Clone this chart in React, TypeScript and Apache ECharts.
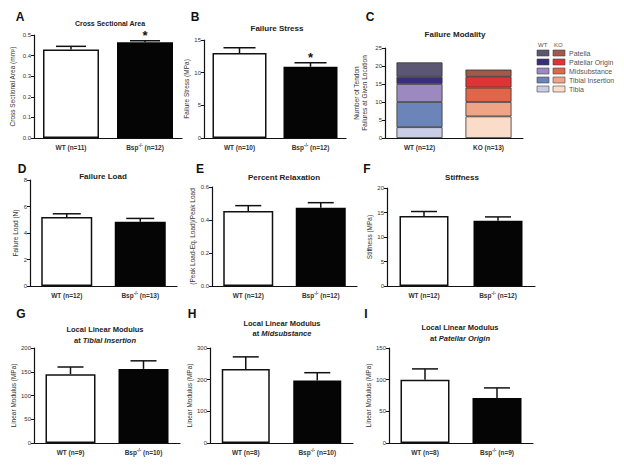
import React, { useEffect, useRef } from "react";
import * as echarts from "echarts";

// ---------- DATA ----------
const csaCats = ["WT (n=11)", "Bsp-/- (n=12)"];
const csaMean = [0.43, 0.465];
const csaUpper = [0.445, 0.472];
const csaSig = ["", "*"];

const stressCats = ["WT (n=10)", "Bsp-/- (n=12)"];
const stressMean = [13.0, 10.9];
const stressUpper = [13.8, 11.5];
const stressSig = ["", "*"];

const modalityCats = ["WT (n=12)", "KO (n=13)"];
const locations = ["Patella", "Patellar Origin", "Midsubstance", "Tibial Insertion", "Tibia"];
const wtCounts = [4, 2, 5, 7, 3];
const koCounts = [2, 3, 4, 4, 6];
const wtColors = ["#5b5672", "#3b2d7e", "#9c89bf", "#6b85bb", "#c9cde6"];
const koColors = ["#a2584a", "#de3434", "#df6649", "#f0a486", "#fbdcc8"];

const loadCats = ["WT (n=12)", "Bsp-/- (n=13)"];
const loadMean = [5.2, 4.85];
const loadUpper = [5.45, 5.1];

const relaxCats = ["WT (n=12)", "Bsp-/- (n=12)"];
const relaxMean = [0.455, 0.475];
const relaxUpper = [0.487, 0.505];

const stiffCats = ["WT (n=12)", "Bsp-/- (n=12)"];
const stiffMean = [14.3, 13.3];
const stiffUpper = [15.2, 14.1];

const tibCats = ["WT (n=9)", "Bsp-/- (n=10)"];
const tibMean = [145, 156];
const tibUpper = [160, 173];

const midCats = ["WT (n=8)", "Bsp-/- (n=10)"];
const midMean = [234, 197];
const midUpper = [272, 222];

const patCats = ["WT (n=8)", "Bsp-/- (n=9)"];
const patMean = [100, 71];
const patUpper = [117, 87];

// ---------- LAYOUT ----------
const FONT = "Liberation Sans, Arial, sans-serif";
const grids = [
  { left: 34, top: 35, width: 148, height: 103 },
  { left: 204, top: 40, width: 142, height: 98 },
  { left: 385, top: 48, width: 138, height: 90 },
  { left: 30, top: 180, width: 147, height: 106 },
  { left: 212, top: 187, width: 145, height: 99 },
  { left: 387, top: 188, width: 148, height: 98 },
  { left: 34, top: 348, width: 146, height: 95 },
  { left: 210, top: 348, width: 143, height: 95 },
  { left: 389, top: 348, width: 144, height: 95 },
];

function catFormatter(v: string) {
  if (v.startsWith("Bsp-/-")) {
    return "{b|Bsp}{s|-/-}{b|" + v.slice(6) + "}";
  }
  return "{b|" + v + "}";
}

function makeX(idx: number, cats: string[]) {
  return {
    type: "category",
    gridIndex: idx,
    data: cats,
    axisLine: { lineStyle: { color: "#111", width: 1.2 } },
    axisTick: { alignWithLabel: true, length: 3, interval: 0, lineStyle: { color: "#111" } },
    axisLabel: {
      margin: 5,
      interval: 0,
      hideOverlap: false,
      formatter: catFormatter,
      rich: {
        b: { fontSize: 6.5, fontWeight: "bold", color: "#333", fontFamily: FONT, lineHeight: 9 },
        s: { fontSize: 4.5, fontWeight: "bold", color: "#333", fontFamily: FONT, verticalAlign: "top", lineHeight: 9 },
      },
    },
  };
}

function makeY(idx: number, max: number, interval: number, name: string, gap: number, dec: number) {
  return {
    type: "value",
    gridIndex: idx,
    min: 0,
    max,
    interval,
    name,
    nameLocation: "middle",
    nameGap: gap,
    nameTextStyle: { fontSize: 6.5, color: "#333", fontFamily: FONT, lineHeight: 8 },
    splitLine: { show: false },
    axisLine: { show: true, lineStyle: { color: "#111", width: 1.2 } },
    axisTick: { show: true, length: 3, lineStyle: { color: "#111" } },
    axisLabel: {
      fontSize: 6,
      color: "#333",
      fontFamily: FONT,
      margin: 3,
      formatter: (v: number) => v.toFixed(dec),
    },
  };
}

function barSeries(idx: number, means: number[], bw: number) {
  return {
    type: "bar",
    xAxisIndex: idx,
    yAxisIndex: idx,
    barWidth: bw,
    z: 2,
    data: means.map((m, i) => ({
      value: m,
      itemStyle:
        i === 0
          ? { color: "#ffffff", borderColor: "#111", borderWidth: 1.5 }
          : { color: "#050505", borderColor: "#050505", borderWidth: 1.5 },
    })),
  };
}

function errSeries(idx: number, means: number[], uppers: number[], cap: number, sig?: string[]) {
  return {
    type: "custom",
    xAxisIndex: idx,
    yAxisIndex: idx,
    z: 5,
    data: means.map((m, i) => [i, m, uppers[i]]),
    renderItem: (params: any, api: any) => {
      const i = api.value(0);
      const top = api.coord([i, api.value(1)]);
      const up = api.coord([i, api.value(2)]);
      const children: any[] = [
        { type: "line", shape: { x1: top[0], y1: top[1], x2: up[0], y2: up[1] }, style: { stroke: "#111", lineWidth: 1.5 } },
        { type: "line", shape: { x1: up[0] - cap, y1: up[1], x2: up[0] + cap, y2: up[1] }, style: { stroke: "#111", lineWidth: 1.5 } },
      ];
      if (sig && sig[params.dataIndex]) {
        children.push({
          type: "text",
          style: {
            text: sig[params.dataIndex],
            x: up[0],
            y: up[1] - 5,
            textAlign: "center",
            textVerticalAlign: "middle",
            fontSize: 13,
            fontWeight: "bold",
            fontFamily: FONT,
            fill: "#111",
          },
        });
      }
      return { type: "group", children };
    },
  };
}

function label(text: string, x: number, y: number) {
  return {
    type: "text",
    style: { text, x, y, textAlign: "center", textVerticalAlign: "middle", fontSize: 12, fontWeight: "bold", fontFamily: FONT, fill: "#111" },
  };
}

function title(text: string, x: number, y: number, size = 7.5) {
  return {
    type: "text",
    style: { text, x, y, textAlign: "center", textVerticalAlign: "middle", fontSize: size, fontWeight: "bold", fontFamily: FONT, fill: "#222" },
  };
}

function subtitle(italicPart: string, x: number, y: number) {
  return {
    type: "text",
    style: {
      text: "{n|at }{i|" + italicPart + "}",
      x,
      y,
      textAlign: "center",
      textVerticalAlign: "middle",
      rich: {
        n: { fontSize: 7.5, fontWeight: "bold", fontFamily: FONT, fill: "#222" },
        i: { fontSize: 7.5, fontWeight: "bold", fontStyle: "italic", fontFamily: FONT, fill: "#222" },
      },
    },
  };
}

export default function App() {
  const ref = useRef<HTMLDivElement>(null);
  useEffect(() => {
    if (!ref.current) return;
    const chart = echarts.init(ref.current, undefined, { renderer: "svg" });

    const xAxis = [
      makeX(0, csaCats),
      makeX(1, stressCats),
      makeX(2, modalityCats),
      makeX(3, loadCats),
      makeX(4, relaxCats),
      makeX(5, stiffCats),
      makeX(6, tibCats),
      makeX(7, midCats),
      makeX(8, patCats),
    ];
    const yAxis = [
      makeY(0, 0.5, 0.1, "Cross Sectional Area (mm²)", 18, 1),
      makeY(1, 15, 5, "Failure Stress (MPa)", 13, 0),
      makeY(2, 25, 5, "Number of Tendon\nFailures at Given Location", 17, 0),
      makeY(3, 8, 2, "Failure Load (N)", 11, 0),
      makeY(4, 0.6, 0.2, "(Peak Load-Eq. Load)/Peak Load", 15, 1),
      makeY(5, 20, 5, "Stiffness (MPa)", 12, 0),
      makeY(6, 200, 50, "Linear Modulus (MPa)", 17, 0),
      makeY(7, 300, 100, "Linear Modulus (MPa)", 17, 0),
      makeY(8, 150, 50, "Linear Modulus (MPa)", 16, 0),
    ];

    const stackSeries = locations
      .map((loc, k) => ({
        type: "bar",
        name: loc,
        stack: "modality",
        xAxisIndex: 2,
        yAxisIndex: 2,
        barWidth: 46,
        data: [
          { value: wtCounts[k], itemStyle: { color: wtColors[k], borderColor: "#333", borderWidth: 0.8 } },
          { value: koCounts[k], itemStyle: { color: koColors[k], borderColor: "#333", borderWidth: 0.8 } },
        ],
      }))
      .reverse();

    const series: any[] = [
      barSeries(0, csaMean, 56),
      errSeries(0, csaMean, csaUpper, 15, csaSig),
      barSeries(1, stressMean, 54),
      errSeries(1, stressMean, stressUpper, 16, stressSig),
      ...stackSeries,
      barSeries(3, loadMean, 51),
      errSeries(3, loadMean, loadUpper, 14),
      barSeries(4, relaxMean, 50),
      errSeries(4, relaxMean, relaxUpper, 13),
      barSeries(5, stiffMean, 49),
      errSeries(5, stiffMean, stiffUpper, 13),
      barSeries(6, tibMean, 50),
      errSeries(6, tibMean, tibUpper, 13),
      barSeries(7, midMean, 48),
      errSeries(7, midMean, midUpper, 13),
      barSeries(8, patMean, 49),
      errSeries(8, patMean, patUpper, 13),
    ];

    const legendEls: any[] = [
      { type: "text", style: { text: "WT", x: 538, y: 45, fontSize: 6, fontFamily: FONT, fill: "#555", textVerticalAlign: "middle" } },
      { type: "text", style: { text: "KO", x: 554, y: 45, fontSize: 6, fontFamily: FONT, fill: "#555", textVerticalAlign: "middle" } },
    ];
    locations.forEach((loc, k) => {
      const y = 53 + k * 9;
      legendEls.push(
        { type: "rect", shape: { x: 537, y: y - 3, width: 12, height: 6 }, style: { fill: wtColors[k], stroke: "#444", lineWidth: 0.6 } },
        { type: "rect", shape: { x: 553, y: y - 3, width: 12, height: 6 }, style: { fill: koColors[k], stroke: "#444", lineWidth: 0.6 } },
        { type: "text", style: { text: loc, x: 569, y, fontSize: 7, fontFamily: FONT, fill: "#555", textVerticalAlign: "middle" } }
      );
    });

    const graphic = [
      label("A", 20, 17),
      label("B", 195, 17),
      label("C", 370, 17),
      label("D", 22, 169),
      label("E", 200, 169),
      label("F", 367, 169),
      label("G", 21, 314),
      label("H", 192, 314),
      label("I", 366, 314),
      title("Cross Sectional Area", 110, 23, 7),
      title("Failure Stress", 277, 28, 8),
      title("Failure Modality", 455, 34, 8),
      title("Failure Load", 103, 176, 8),
      title("Percent Relaxation", 284, 177, 8),
      title("Stiffness", 462, 177, 8),
      title("Local Linear Modulus", 105, 329),
      subtitle("Tibial Insertion", 105, 340),
      title("Local Linear Modulus", 282, 323),
      subtitle("Midsubstance", 282, 333),
      title("Local Linear Modulus", 460, 327),
      subtitle("Patellar Origin", 460, 338),
      ...legendEls,
    ];

    chart.setOption({
      animation: false,
      backgroundColor: "#ffffff",
      textStyle: { fontFamily: FONT },
      grid: grids.map((g) => ({ ...g, containLabel: false })),
      xAxis,
      yAxis,
      series,
      graphic,
    });
    return () => chart.dispose();
  }, []);
  return <div ref={ref} style={{ position: "absolute", left: 0, top: 0, width: 624, height: 465 }} />;
}
